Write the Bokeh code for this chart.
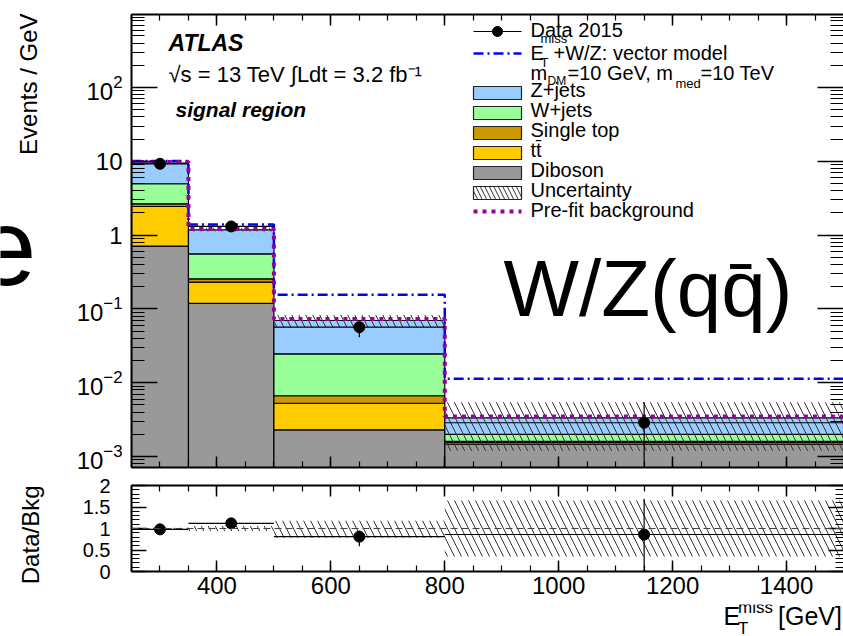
import numpy as np
from math import pi, log10
from bokeh.plotting import figure
from bokeh.models import (Range1d, LogAxis, LinearAxis, LogTicker,
                          SingleIntervalTicker, Label, Span)
from bokeh.core.properties import value
from bokeh.layouts import column, row
from bokeh.embed import file_html
from bokeh.resources import INLINE

# ---------------- data ----------------
bin_edges = [250, 350, 500, 800, 1500]
diboson = [0.71, 0.119, 0.0023, 0.00147]
ttbar = [1.73, 0.111, 0.00297, 0.00008]
single_top = [0.21, 0.026, 0.00139, 0.00005]
wjets = [2.31, 0.302, 0.0180, 0.00039]
zjets = [4.46, 0.622, 0.045, 0.00135]
unc_lo = [9.15, 1.12, 0.0565, 0.0012]
unc_hi = [9.70, 1.25, 0.083, 0.00545]
prefit = [9.8, 1.21, 0.073, 0.00348]
signal = [10.1, 1.39, 0.155, 0.0113]
data_x = [300, 425, 650, 1150]
data_y = [9.25, 1.31, 0.0565, 0.00287]
data_hi = [9.55, 1.40, 0.066, 0.0055]
data_lo = [8.95, 1.22, 0.0414, 0.0005]
ratio = [0.98, 1.12, 0.81, 0.86]
ratio_hi = [1.01, 1.19, 0.95, 1.69]
ratio_lo = [0.95, 1.05, 0.59, 0.0]
ratio_unc_lo = [0.98, 0.94, 0.78, 0.35]
ratio_unc_hi = [1.02, 1.06, 1.18, 1.65]
y_tick_overrides = {1: "1", 10: "10"}
ratio_tick_overrides = {0: "0", 1: "1", 2: "2"}

FONT = "Liberation Sans"
XMIN, XMAX = 250, 1500
YLO, YHI = 7.1e-4, 975
MID = 0.40  # baseline offset of a "middle" anchored text, in font sizes

# ---------------- layout helpers (pixel -> data for annotations) ----------------
PX_L, PX_R = 131, 843
MAIN_T, MAIN_B = 14, 467
LEFT_W = 60


def mx(px):
    return XMIN + (px - PX_L) * (XMAX - XMIN) / (PX_R - PX_L)


def my(py):
    return 10 ** (log10(YLO) + (MAIN_B - py) / (MAIN_B - MAIN_T) * (log10(YHI) - log10(YLO)))


def style_axis(ax, major_in, minor_in, labels=True, size="24px", standoff=6, line=True):
    ax.major_tick_in = major_in
    ax.major_tick_out = 0
    ax.minor_tick_in = minor_in
    ax.minor_tick_out = 0
    ax.axis_line_width = 2
    ax.axis_line_color = "black" if line else None
    ax.major_tick_line_width = 1.5
    ax.minor_tick_line_width = 1.2
    if labels:
        ax.major_label_text_font = FONT
        ax.major_label_text_font_size = size
        ax.major_label_text_color = "black"
        ax.major_label_standoff = standoff
    else:
        ax.major_label_text_font_size = "1px"
        ax.major_label_text_alpha = 0
        ax.major_label_standoff = 0


def main_text(xpx, base_py, text, fs, style="normal", align="left"):
    main.add_layout(Label(x=mx(xpx), y=my(base_py - MID * fs), text=text,
                          text_font=FONT, text_font_size=f"{fs}px",
                          text_font_style=style, text_align=align,
                          text_baseline="middle", text_color="black"))


def px_text(fig, xpx, base_px, text, fs, align="left", angle=0.0, along_x=False):
    # figures whose ranges are plain pixel coordinates
    if along_x:
        x, y = base_px - MID * fs, xpx
    else:
        x, y = xpx, base_px - MID * fs
    fig.text(x=[x], y=[y], text=[text], text_font=value(FONT),
             text_font_size=value(f"{fs}px"), text_align=align,
             text_baseline="middle", angle=angle, text_color="black")


edges = np.array(bin_edges, dtype=float)
left, right = edges[:-1], edges[1:]
step_x = np.repeat(edges, 2)[1:-1]

# ---------------- main panel ----------------
x_range = Range1d(XMIN, XMAX)
main = figure(width=843 - LEFT_W, height=476, x_range=x_range,
              y_range=Range1d(YLO, YHI), y_axis_type="log",
              output_backend="svg", toolbar_location=None,
              min_border_left=PX_L - LEFT_W, min_border_right=0,
              min_border_top=MAIN_T, min_border_bottom=9)
main.grid.visible = False
main.outline_line_color = None
main.background_fill_color = "white"
main.border_fill_color = "white"

main.xaxis[0].ticker = SingleIntervalTicker(interval=200, num_minor_ticks=4)
style_axis(main.xaxis[0], 11, 6, labels=False)
top_ax = LinearAxis(ticker=SingleIntervalTicker(interval=200, num_minor_ticks=4))
style_axis(top_ax, 11, 6, labels=False)
main.add_layout(top_ax, "above")

main.yaxis[0].ticker = LogTicker(num_minor_ticks=10)
style_axis(main.yaxis[0], 26, 13, labels=True, size="24px", standoff=9)
main.yaxis[0].major_label_overrides = y_tick_overrides
right_ax = LogAxis(ticker=LogTicker(num_minor_ticks=10))
style_axis(right_ax, 26, 13, labels=False, line=False)
main.add_layout(right_ax, "right")

layers = [(diboson, "#999999"), (ttbar, "#ffcc00"), (single_top, "#cc9900"),
          (wjets, "#99ff99"), (zjets, "#99ccff")]
cum = np.zeros(4)
for vals, col in layers:
    top = cum + np.array(vals)
    bot = np.maximum(cum, 1e-7)
    main.quad(left=left, right=right, bottom=bot, top=top,
              fill_color=col, line_color="black", line_width=1.2)
    cum = top

main.quad(left=left, right=right, bottom=unc_lo, top=unc_hi,
          fill_color=None, line_color=None, hatch_pattern="\\",
          hatch_color="#333333", hatch_weight=1, hatch_scale=14)

main.line(step_x, np.repeat(signal, 2), line_color="#0000ff", line_width=2.5,
          line_dash="10 4 2 4")
main.line(step_x, np.repeat(prefit, 2), line_color="#990099", line_width=4,
          line_dash="4 5")

main.segment(x0=left, x1=right, y0=data_y, y1=data_y, line_color="black", line_width=1.2)
main.segment(x0=data_x, x1=data_x, y0=data_lo, y1=data_hi, line_color="black", line_width=1.2)
main.scatter(data_x, data_y, size=11, color="black")

# ATLAS labels
main_text(168, 52, "ATLAS", 23, style="bold italic")
main_text(168, 83, "√s = 13 TeV ∫Ldt = 3.2 fb⁻¹", 22)
main_text(175, 117, "signal region", 21, style="bold italic")
main_text(503, 320, "W/Z(qq̄)", 80)

# legend
LX0, LX1, TX = 473, 521, 530
main.segment(x0=[mx(LX0)], x1=[mx(LX1)], y0=[my(31)], y1=[my(31)], line_color="black", line_width=1.2)
main.scatter([mx(497)], [my(31)], size=10, color="black")
main_text(TX, 37, "Data 2015", 20)

main.segment(x0=[mx(LX0)], x1=[mx(LX1)], y0=[my(53)], y1=[my(53)], line_color="#0000ff",
             line_width=2.5, line_dash="10 4 2 4")
main_text(TX, 60, "E", 20)
main_text(540, 43, "miss", 13)
main_text(540, 67, "T", 13)
main_text(553, 60, "+W/Z: vector model", 20)

main_text(TX, 80, "m", 20)
main_text(547, 85, "DM", 12)
main_text(567, 80, "=10 GeV, m", 20)
main_text(675, 88, "med", 13)
main_text(700, 80, "=10 TeV", 20)

box_rows = [(97, "#99ccff", "Z+jets"), (117, "#99ff99", "W+jets"),
            (137, "#cc9900", "Single top"), (157, "#ffcc00", "tt̄"),
            (177, "#999999", "Diboson")]
for bl, col, name in box_rows:
    main.quad(left=[mx(LX0)], right=[mx(LX1)], top=[my(bl - 11)], bottom=[my(bl + 2)],
              fill_color=col, line_color="#222222", line_width=1.2)
    main_text(TX, bl, name, 20)
main.quad(left=[mx(LX0)], right=[mx(LX1)], top=[my(186)], bottom=[my(199)],
          fill_color="white", line_color="#222222", line_width=1.2,
          hatch_pattern="\\", hatch_color="#333333", hatch_weight=1, hatch_scale=9)
main_text(TX, 197, "Uncertainty", 20)
main.segment(x0=[mx(LX0)], x1=[mx(LX1)], y0=[my(211)], y1=[my(211)], line_color="#990099",
             line_width=4, line_dash="4 5")
main_text(TX, 217, "Pre-fit background", 20)

# ---------------- ratio panel ----------------
rat = figure(width=843 - LEFT_W, height=128, x_range=x_range, y_range=Range1d(0, 2),
             output_backend="svg", toolbar_location=None,
             min_border_left=PX_L - LEFT_W, min_border_right=0,
             min_border_top=9, min_border_bottom=33)
rat.grid.visible = False
rat.outline_line_color = None
rat.background_fill_color = "white"
rat.border_fill_color = "white"

rat.xaxis[0].ticker = SingleIntervalTicker(interval=200, num_minor_ticks=4)
style_axis(rat.xaxis[0], 11, 6, labels=True, size="24px", standoff=5)
rtop = LinearAxis(ticker=SingleIntervalTicker(interval=200, num_minor_ticks=4))
style_axis(rtop, 11, 6, labels=False)
rat.add_layout(rtop, "above")
rat.yaxis[0].ticker = SingleIntervalTicker(interval=0.5, num_minor_ticks=5)
style_axis(rat.yaxis[0], 15, 8, labels=True, size="20px", standoff=21)
rat.yaxis[0].major_label_overrides = ratio_tick_overrides
rright = LinearAxis(ticker=SingleIntervalTicker(interval=0.5, num_minor_ticks=5))
style_axis(rright, 15, 8, labels=False, line=False)
rat.add_layout(rright, "right")

rat.quad(left=left, right=right, bottom=ratio_unc_lo, top=ratio_unc_hi,
         fill_color=None, line_color=None, hatch_pattern="\\",
         hatch_color="#333333", hatch_weight=1, hatch_scale=14)
rat.add_layout(Span(location=1, dimension="width", line_color="#444444",
                    line_width=1.2, line_dash="7 4"))
rat.segment(x0=left, x1=right, y0=ratio, y1=ratio, line_color="black", line_width=1.2)
rat.segment(x0=data_x, x1=data_x, y0=ratio_lo, y1=ratio_hi, line_color="black", line_width=1.2)
rat.scatter(data_x, ratio, size=11, color="black")


def text_panel(width, height, x0, y0):
    f = figure(width=width, height=height, x_range=Range1d(x0, x0 + width),
               y_range=Range1d(y0 + height, y0), output_backend="svg",
               toolbar_location=None, x_axis_location=None, y_axis_location=None,
               min_border_left=0, min_border_right=0, min_border_top=0,
               min_border_bottom=0)
    f.grid.visible = False
    f.outline_line_color = None
    f.background_fill_color = "white"
    f.border_fill_color = "white"
    return f


# left strip: y-axis titles (pixel coordinates)
lft = text_panel(LEFT_W, 636, 0, 0)
px_text(lft, 13, 38, "Events / GeV", 24, align="right", angle=pi / 2, along_x=True)
px_text(lft, 485, 40, "Data/Bkg", 24, align="right", angle=pi / 2, along_x=True)
px_text(lft, 36, 290, "e", 110, align="right")

# bottom strip: x-axis title (pixel coordinates)
bot = text_panel(843 - LEFT_W, 32, LEFT_W, 604)
px_text(bot, 711, 625, "E", 25)
px_text(bot, 727, 614, "miss", 17)
px_text(bot, 727, 635, "T", 17)
px_text(bot, 771, 625, "[GeV]", 25)

layout = row(lft, column(main, rat, bot, spacing=0), spacing=0)
open("out.html", "w").write(file_html(layout, INLINE))
